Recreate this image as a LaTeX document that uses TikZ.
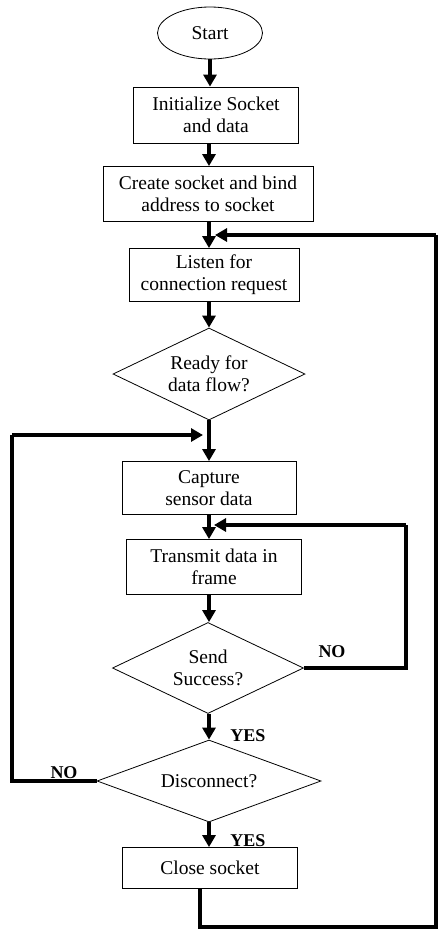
\documentclass[tikz,border=0pt]{standalone}
\usepackage{fontspec}
\setmainfont{Liberation Serif}
\usetikzlibrary{shapes.geometric,arrows.meta}
\begin{document}
\begin{tikzpicture}[x=1pt,y=-1pt,
  every node/.style={font=\fontsize{19.5}{22}\selectfont},
  procbox/.style={draw,line width=0.8pt,inner sep=0pt,align=center},
  decbox/.style={draw,diamond,line width=0.8pt,inner sep=0pt,align=center,shape aspect=2.1},
  termbox/.style={draw,ellipse,line width=0.8pt,inner sep=0pt},
  flow/.style={line width=4pt,-{Triangle[width=13pt,length=12pt]}},
  loopline/.style={line width=4pt},
  lbl/.style={font=\fontsize{18}{18}\selectfont\bfseries}]
\useasboundingbox (0,0) rectangle (439,930);
\node[termbox,minimum width=105pt,minimum height=52pt] (start) at (210,33) {Start};
\node[procbox,minimum width=165pt,minimum height=56pt] (init) at (216,115) {Initialize Socket\\and data};
\node[procbox,minimum width=210pt,minimum height=55pt] (create) at (208,194) {Create socket and bind\\address to socket};
\node[procbox,minimum width=170pt,minimum height=53pt] (listen) at (214,275) {Listen for\\connection request};
\node[decbox,minimum width=192pt,minimum height=92pt] (ready) at (209,374) {Ready for\\data flow?};
\node[procbox,minimum width=174pt,minimum height=53pt] (capture) at (209,488) {Capture\\sensor data};
\node[procbox,minimum width=175pt,minimum height=55pt] (transmit) at (214,567) {Transmit data in\\frame};
\node[decbox,minimum width=191pt,minimum height=91pt] (send) at (208,668) {Send\\Success?};
\node[decbox,minimum width=224pt,minimum height=82pt] (disc) at (209,781) {Disconnect?};
\node[procbox,minimum width=175pt,minimum height=41pt] (close) at (210,868) {Close socket};
% labels
\node[lbl] (no1) at (332,652) {NO};
\node[lbl] (yes1) at (248,736) {YES};
\node[lbl] (no2) at (64,773) {NO};
\node[lbl] (yes2) at (248,841) {YES};
% main column
\coordinate (col) at (209,0);
\draw[flow] (start) -- (start |- init.north);
\draw[flow] (init.south -| col) -- (create.north -| col);
\draw[flow] (create.south -| col) -- (listen.north -| col);
\draw[flow] (listen.south -| col) -- (ready.north -| col);
\draw[flow] (ready.south -| col) -- (capture.north -| col);
\draw[flow] (capture.south -| col) -- (transmit.north -| col);
\draw[flow] (transmit.south -| col) -- (send.north -| col);
\draw[flow] (send.south -| col) -- (disc.north -| col);
\draw[flow] (disc.south -| col) -- (close.north -| col);
% loops
\coordinate (a1) at (200,927);
\coordinate (a2) at (436,927);
\coordinate (a3) at (436,235);
\coordinate (a4) at (215,235);
\draw[loopline] (close.south -| a1) -- (a1) -- (a2) -- (a3);
\draw[flow] (a3) -- (a4);
\coordinate (b1) at (406,668);
\coordinate (b2) at (406,525);
\coordinate (b3) at (214,525);
\draw[loopline] (send.east) -- (b1) -- (b2);
\draw[flow] (b2) -- (b3);
\coordinate (d1) at (12,781);
\coordinate (d2) at (12,435);
\coordinate (d3) at (203,435);
\draw[loopline] (disc.west) -- (d1) -- (d2);
\draw[flow] (d2) -- (d3);
\end{tikzpicture}
\end{document}
